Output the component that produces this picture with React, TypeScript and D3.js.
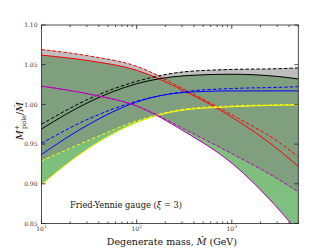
import { useEffect, useRef } from "react";
import * as d3 from "d3";

// degenerate mass (GeV), sampled on the log axis
const MASS = [10, 31.6, 100, 316, 1000, 3160, 5000];

const RED_SOLID = [1.062, 1.055, 1.043, 1.017, 0.984, 0.942, 0.922];
const RED_DASHED = [1.069, 1.061, 1.048, 1.019, 0.987, 0.952, 0.934];
const BLACK_SOLID = [0.969, 1.003, 1.026, 1.036, 1.038, 1.035, 1.032];
const BLACK_DASHED = [0.975, 1.007, 1.029, 1.041, 1.044, 1.045, 1.046];
const BLUE_SOLID = [0.937, 0.975, 1.003, 1.015, 1.017, 1.017, 1.017];
const BLUE_DASHED = [0.951, 0.982, 1.004, 1.016, 1.02, 1.0215, 1.0223];
const YELLOW_SOLID = [0.899, 0.945, 0.977, 0.993, 0.997, 0.999, 0.9993];
const YELLOW_DASHED = [0.929, 0.955, 0.979, 0.994, 0.998, 0.9995, 1.0];
const MAGENTA_SOLID = [1.023, 1.013, 0.998, 0.966, 0.926, 0.867, 0.839];
const MAGENTA_DASHED = [1.023, 1.013, 0.998, 0.969, 0.938, 0.905, 0.89];

const Y_TICKS = [0.85, 0.9, 0.95, 1.0, 1.05, 1.1];
const X_TICKS = [10, 100, 1000];

const SERIES = [
  { color: "#ff0000", solid: RED_SOLID, dashed: RED_DASHED },
  { color: "#000000", solid: BLACK_SOLID, dashed: BLACK_DASHED },
  { color: "#0000ff", solid: BLUE_SOLID, dashed: BLUE_DASHED },
  { color: "#ffff00", solid: YELLOW_SOLID, dashed: YELLOW_DASHED },
  { color: "#bf00bf", solid: MAGENTA_SOLID, dashed: MAGENTA_DASHED },
];

const FONT = "DejaVu Serif";

export default function App() {
  const svgRef = useRef<SVGSVGElement | null>(null);

  useEffect(() => {
    if (!svgRef.current) return;
    document.body.style.margin = "0";

    const W = 332, H = 249;
    const margin = { top: 25, right: 33.7, bottom: 25.5, left: 41.5 };
    const innerW = W - margin.left - margin.right;
    const innerH = H - margin.top - margin.bottom;

    const svg = d3.select(svgRef.current);
    svg.selectAll("*").remove();
    svg.attr("width", W).attr("height", H);

    svg.append("defs").append("clipPath").attr("id", "plot-clip")
      .append("rect").attr("width", innerW).attr("height", innerH);

    const g = svg.append("g").attr("transform", `translate(${margin.left},${margin.top})`);

    const x = d3.scaleLog().domain([10, 5000]).range([0, innerW]);
    const y = d3.scaleLinear().domain([0.85, 1.1]).range([innerH, 0]);
    const idx = d3.range(MASS.length);

    const line = (vals: number[]) =>
      d3.line<number>().x((i) => x(MASS[i])).y((i) => y(vals[i])).curve(d3.curveMonotoneX)(idx);
    const band = (a: number[], b: number[]) =>
      d3.area<number>().x((i) => x(MASS[i])).y0((i) => y(a[i])).y1((i) => y(b[i])).curve(d3.curveMonotoneX)(idx);

    const plot = g.append("g").attr("clip-path", "url(#plot-clip)");

    // envelope of the solid curves (green) and of the dashed curves (gray)
    const fills: [string, "solid" | "dashed"][] = [["green", "solid"], ["gray", "dashed"]];
    fills.forEach(([color, key]) => {
      const grp = plot.append("g").attr("opacity", 0.5);
      for (let i = 0; i < SERIES.length; i++) {
        for (let j = i + 1; j < SERIES.length; j++) {
          grp.append("path").attr("d", band(SERIES[i][key], SERIES[j][key]) as string)
            .attr("fill", color).attr("stroke", "none");
        }
      }
    });

    SERIES.forEach((s) => {
      plot.append("path").attr("d", line(s.solid) as string)
        .attr("fill", "none").attr("stroke", s.color).attr("stroke-width", 1);
      plot.append("path").attr("d", line(s.dashed) as string)
        .attr("fill", "none").attr("stroke", s.color).attr("stroke-width", 1)
        .attr("stroke-dasharray", "3.5,2");
    });

    // frame and inward ticks
    const ax = g.append("g").attr("stroke", "#222").attr("stroke-width", 0.8);
    x.ticks().forEach((t) => {
      const major = X_TICKS.includes(t);
      const len = major ? 4 : 2;
      ax.append("line").attr("x1", x(t)).attr("x2", x(t)).attr("y1", innerH).attr("y2", innerH - len);
      ax.append("line").attr("x1", x(t)).attr("x2", x(t)).attr("y1", 0).attr("y2", len);
    });
    Y_TICKS.forEach((t) => {
      ax.append("line").attr("x1", 0).attr("x2", 4).attr("y1", y(t)).attr("y2", y(t));
      ax.append("line").attr("x1", innerW).attr("x2", innerW - 4).attr("y1", y(t)).attr("y2", y(t));
    });
    ax.append("rect").attr("width", innerW).attr("height", innerH).attr("fill", "none");

    Y_TICKS.forEach((t) => {
      g.append("text").attr("x", -4).attr("y", y(t)).attr("dy", "0.35em")
        .attr("text-anchor", "end").attr("font-family", FONT).attr("font-size", 6).attr("fill", "#333")
        .text(t.toFixed(2));
    });
    X_TICKS.forEach((t) => {
      const tx = g.append("text").attr("x", x(t)).attr("y", innerH + 7)
        .attr("text-anchor", "middle").attr("font-family", FONT).attr("font-size", 6).attr("fill", "#333");
      tx.append("tspan").text("10");
      tx.append("tspan").attr("dy", -2.5).attr("font-size", 4.5).text(String(Math.round(Math.log10(t))));
    });

    // x label
    const xl = svg.append("text").attr("x", margin.left + innerW / 2 + 2).attr("y", 245)
      .attr("text-anchor", "middle").attr("font-family", FONT).attr("font-size", 9.5).attr("fill", "#111");
    xl.append("tspan").text("Degenerate mass, ");
    xl.append("tspan").attr("font-style", "italic").text("M\u0302");
    xl.append("tspan").text(" (GeV)");

    // y label
    const yl = svg.append("text").attr("transform", `translate(23,${121}) rotate(-90)`)
      .attr("text-anchor", "middle").attr("font-family", FONT).attr("font-size", 9.5).attr("fill", "#111");
    yl.append("tspan").attr("font-style", "italic").text("M");
    yl.append("tspan").attr("dy", -4).attr("font-size", 6.5).text("+");
    yl.append("tspan").attr("dx", -4).attr("dy", 7).attr("font-size", 6.5).text("pole");
    yl.append("tspan").attr("dy", -3).text("/");
    yl.append("tspan").attr("font-style", "italic").text("M\u0302");

    // annotation
    const ann = g.append("text").attr("x", 70 - margin.left).attr("y", 207.5 - margin.top)
      .attr("font-family", FONT).attr("font-size", 8.3).attr("fill", "#111");
    ann.append("tspan").text("Fried-Yennie gauge (");
    ann.append("tspan").attr("font-style", "italic").text("\u03be");
    ann.append("tspan").text(" = 3)");
  }, []);

  return <svg ref={svgRef} style={{ display: "block" }} />;
}
